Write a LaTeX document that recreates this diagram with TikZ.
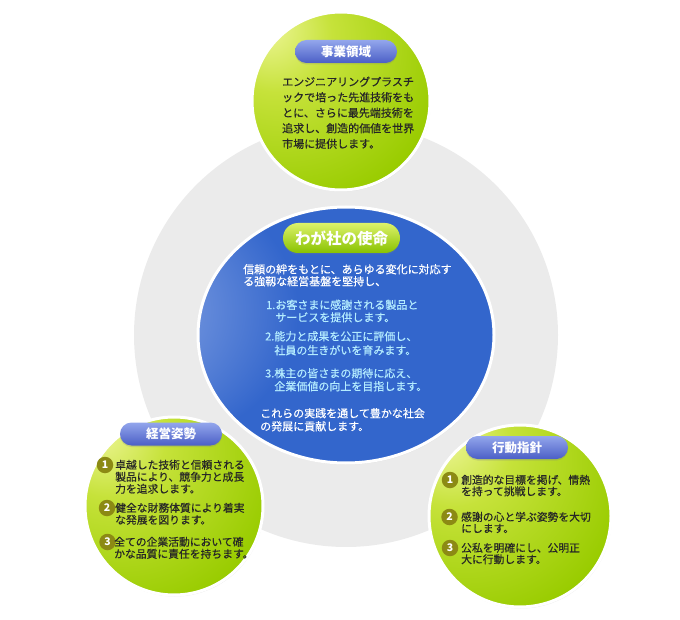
\documentclass[tikz,border=0pt]{standalone}
\usepackage{fontspec}
\setmainfont{Noto Sans CJK JP}
\newfontfamily\heavyjp[FakeBold=0.45]{Noto Sans CJK JP}
\usetikzlibrary{shapes.geometric,shadows}

\definecolor{ringgray}{HTML}{EBEBEB}
\definecolor{ballhi}{HTML}{F0F79C}
\definecolor{ballmid}{HTML}{C6E23A}
\definecolor{ballgreen}{HTML}{99CC00}
\definecolor{missionhi}{HTML}{A3B9EC}
\definecolor{missionblue}{HTML}{3366CC}
\definecolor{pilltop}{HTML}{93A6EC}
\definecolor{pillbot}{HTML}{4B5FC6}
\definecolor{gpilltop}{HTML}{DDF26A}
\definecolor{gpillbot}{HTML}{88C200}
\definecolor{numolive}{HTML}{8C8A14}
\definecolor{itemcyan}{HTML}{B4ECFF}
\definecolor{darktext}{HTML}{262626}

\pgfdeclareradialshading{greenball}{\pgfpoint{-22bp}{22bp}}{%
  color(0bp)=(ballhi); color(16bp)=(ballmid); color(42bp)=(ballgreen); color(100bp)=(ballgreen)}
\pgfdeclareradialshading{missionball}{\pgfpoint{-46bp}{6bp}}{%
  color(0bp)=(missionhi); color(26bp)=(missionblue); color(100bp)=(missionblue)}

\tikzset{
  greenball/.style={circle, inner sep=0pt, minimum size=#1, shade, shading=greenball,
    draw=white, line width=3pt, drop shadow={opacity=.18, shadow xshift=.8pt, shadow yshift=-1.5pt}},
  greenball/.default=178pt,
  missionball/.style={ellipse, inner sep=0pt, minimum width=296pt, minimum height=256pt,
    shade, shading=missionball, draw=white, line width=3pt,
    drop shadow={opacity=.15, shadow xshift=.8pt, shadow yshift=-1.5pt}},
  bluepill/.style={rectangle, rounded corners=11.5pt, minimum width=102pt, minimum height=23pt,
    inner sep=0pt, top color=pilltop, bottom color=pillbot, text=white,
    font=\bfseries\fontsize{12.5}{12.5}\selectfont,
    drop shadow={opacity=.25, shadow xshift=0pt, shadow yshift=-1.5pt}},
  greenpill/.style={rectangle, rounded corners=15pt, minimum width=117pt, minimum height=30pt,
    inner sep=0pt, top color=gpilltop, bottom color=gpillbot, text=white,
    font=\bfseries\fontsize{15.5}{15.5}\selectfont,
    drop shadow={opacity=.25, shadow xshift=0pt, shadow yshift=-1.5pt}},
  numdot/.style={circle, inner sep=0pt, minimum size=16.5pt, fill=numolive, text=white,
    font=\bfseries\fontsize{10.5}{10.5}\selectfont},
  bodytext/.style={anchor=north west, inner sep=0pt, align=left},
}

\begin{document}
\begin{tikzpicture}[x=1pt, y=-1pt]
    \useasboundingbox (0, 0) rectangle (680, 620);
    % 背景灰圆
    \node [circle, inner sep=0pt, minimum size=424pt, fill=ringgray] (ring) at (346, 335) {};

    % 事業領域
    \node [greenball=178pt] (domain) at (341, 101) {};
    \node [bluepill] (domaintitle) at (346, 51.5) {事業領域};
    \node [bodytext, text=darktext, font=\heavyjp\fontsize{11}{15.5}\selectfont] (domaintext) at (282, 76.5)
        {エンジニアリングプラスチ\\ックで培った先進技術をも\\とに、さらに最先端技術を\\追求し、創造的価値を世界\\市場に提供します。};

    % わが社の使命
    \node [missionball] (mission) at (346, 335) {};
    \node [greenpill] (missiontitle) at (341.5, 238) {わが社の使命};
    \node [bodytext, text=white, font=\heavyjp\fontsize{11}{12}\selectfont] (missionlead) at (243, 264)
        {信頼の絆をもとに、あらゆる変化に対応す\\る強靱な経営基盤を堅持し、};
    \node [bodytext, text=itemcyan, font=\heavyjp\fontsize{11}{12.5}\selectfont] (mission1) at (266, 299.5)
        {1.お客さまに感謝される製品と\\\phantom{1.}サービスを提供します。};
    \node [bodytext, text=itemcyan, font=\heavyjp\fontsize{11}{14}\selectfont] (mission2) at (265, 331)
        {2.能力と成果を公正に評価し、\\\phantom{2.}社員の生きがいを育みます。};
    \node [bodytext, text=itemcyan, font=\heavyjp\fontsize{11}{13}\selectfont] (mission3) at (265, 368)
        {3.株主の皆さまの期待に応え、\\\phantom{3.}企業価値の向上を目指します。};
    \node [bodytext, text=white, font=\heavyjp\fontsize{11}{13}\selectfont] (missionend) at (260, 408)
        {これらの実践を通して豊かな社会\\の発展に貢献します。};

    % 経営姿勢
    \node [greenball=178pt] (stance) at (174, 506) {};
    \node [bluepill] (stancetitle) at (171, 434) {経営姿勢};
    \node [numdot] (stance1) at (105, 465) {1};
    \node [numdot] (stance2) at (107, 508) {2};
    \node [numdot] (stance3) at (107.5, 542) {3};
    \node [bodytext, text=darktext, font=\heavyjp\fontsize{10.8}{12}\selectfont] (stancetext1) at (115, 459.6)
        {卓越した技術と信頼される\\製品により、競争力と成長\\力を追求します。};
    \node [bodytext, text=darktext, font=\heavyjp\fontsize{10.8}{12}\selectfont] (stancetext2) at (115, 502.6)
        {健全な財務体質により着実\\な発展を図ります。};
    \node [bodytext, text=darktext, font=\heavyjp\fontsize{10.8}{12}\selectfont] (stancetext3) at (114, 536.6)
        {全ての企業活動において確\\かな品質に責任を持ちます。};

    % 行動指針
    \node [greenball=182pt] (conduct) at (520, 516) {};
    \node [bluepill] (conducttitle) at (517, 447.5) {行動指針};
    \node [numdot] (conduct1) at (450, 480) {1};
    \node [numdot] (conduct2) at (449.5, 517) {2};
    \node [numdot] (conduct3) at (450, 548) {3};
    \node [bodytext, text=darktext, font=\heavyjp\fontsize{10.8}{11.5}\selectfont] (conducttext1) at (461, 474.6)
        {創造的な目標を掲げ、情熱\\を持って挑戦します。};
    \node [bodytext, text=darktext, font=\heavyjp\fontsize{10.8}{11.5}\selectfont] (conducttext2) at (461, 511.6)
        {感謝の心と学ぶ姿勢を大切\\にします。};
    \node [bodytext, text=darktext, font=\heavyjp\fontsize{10.8}{11.5}\selectfont] (conducttext3) at (461, 542.6)
        {公私を明確にし、公明正\\大に行動します。};
\end{tikzpicture}
\end{document}
